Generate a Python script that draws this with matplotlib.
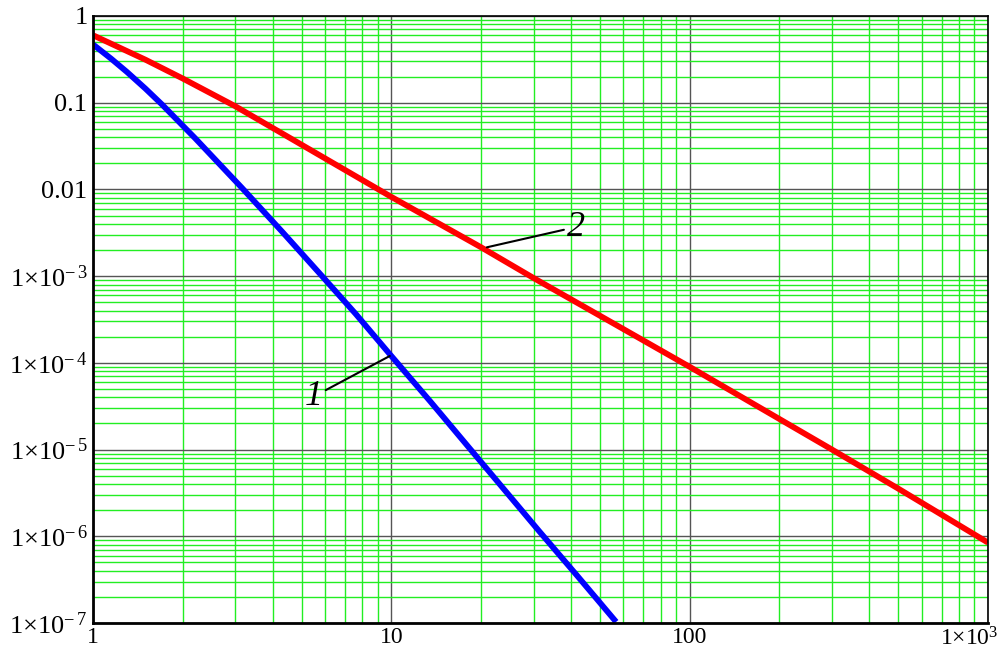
import matplotlib
matplotlib.use("Agg")
import matplotlib.pyplot as plt
from matplotlib.ticker import LogLocator, FixedLocator, FixedFormatter, NullFormatter
from matplotlib.transforms import ScaledTranslation

# values (log-log)
x_red = [1, 1.5, 2, 3, 5, 10, 20, 30, 50, 100, 200, 300, 500, 1000]
y_red = [0.6, 0.313, 0.19, 0.091, 0.0328, 0.0082, 0.00215, 9.5e-4, 3.5e-4,
         9.0e-5, 2.25e-5, 1.0e-5, 3.55e-6, 8.45e-7]

x_blue = [1, 1.15, 1.3, 1.5, 1.7, 2.2, 3.15, 4.3, 5.83, 7.6, 10, 13.5, 18.1, 24, 31.4, 42, 56.7]
y_blue = [0.47, 0.322, 0.226, 0.145, 0.096, 0.0389, 0.0105, 3.27e-3, 1.02e-3, 3.66e-4,
          1.2e-4, 3.6e-5, 1.08e-5, 3.4e-6, 1.13e-6, 3.5e-7, 1.03e-7]

x_ticks = [1, 10, 100, 1000]
x_labels = ["1", "10", "100", r"$1{\times}10^{3}$"]
y_ticks = [1e-7, 1e-6, 1e-5, 1e-4, 1e-3, 0.01, 0.1, 1]
y_labels = [r"$1{\times}10^{-\,7}$", r"$1{\times}10^{-\,6}$", r"$1{\times}10^{-\,5}$",
            r"$1{\times}10^{-\,4}$", r"$1{\times}10^{-\,3}$", "0.01", "0.1", "1"]

plt.rcParams["font.family"] = "Liberation Serif"
plt.rcParams["mathtext.fontset"] = "custom"
plt.rcParams["mathtext.rm"] = "Liberation Serif"
plt.rcParams["mathtext.it"] = "Liberation Serif:italic"

fig = plt.figure(figsize=(10.01, 6.52), dpi=100)
ax = fig.add_axes([93 / 1001, 1 - 623 / 652, 895 / 1001, 607 / 652])

ax.set_xscale("log")
ax.set_yscale("log")
ax.set_xlim(1, 1000)
ax.set_ylim(1e-7, 1)

ax.xaxis.set_major_locator(FixedLocator(x_ticks))
ax.xaxis.set_major_formatter(FixedFormatter(x_labels))
ax.yaxis.set_major_locator(FixedLocator(y_ticks))
ax.yaxis.set_major_formatter(FixedFormatter(y_labels))
ax.xaxis.set_minor_locator(LogLocator(base=10, subs=range(2, 10), numticks=20))
ax.yaxis.set_minor_locator(LogLocator(base=10, subs=range(2, 10), numticks=20))
ax.xaxis.set_minor_formatter(NullFormatter())
ax.yaxis.set_minor_formatter(NullFormatter())

ax.grid(which="minor", color="#22ee22", linewidth=1.0)
ax.grid(which="major", color="#555555", linewidth=1.0)
ax.set_axisbelow(True)
ax.tick_params(which="both", length=0)
ax.tick_params(axis="x", pad=3, labelsize=17)
ax.tick_params(axis="y", pad=4, labelsize=19)

for side in ["top", "right"]:
    ax.spines[side].set_linewidth(1.2)
for side in ["left", "bottom"]:
    ax.spines[side].set_linewidth(2.0)

ax.plot(x_blue, y_blue, color="#0000ff", linewidth=4.2, solid_capstyle="butt")
ax.plot(x_red, y_red, color="#ff0000", linewidth=4.2, solid_capstyle="butt")

# curve labels with pointer lines
ax.annotate("2", xy=(20.9, 2.15e-3), xytext=(38.7, 3.68e-3), fontsize=26,
            style="italic", va="center", ha="left",
            arrowprops=dict(arrowstyle="-", color="black", lw=1.5, shrinkA=0, shrinkB=0))
ax.annotate("1", xy=(9.88, 1.2e-4), xytext=(5.9, 4.1e-5), fontsize=26,
            style="italic", va="center", ha="right",
            arrowprops=dict(arrowstyle="-", color="black", lw=1.5, shrinkA=0, shrinkB=0))

# last x label sits to the left like in the reference
last = ax.get_xticklabels()[-1]
last.set_horizontalalignment("right")
last.set_transform(last.get_transform() + ScaledTranslation(11 / 100, 0, fig.dpi_scale_trans))

fig.savefig("out.png", dpi=100)
